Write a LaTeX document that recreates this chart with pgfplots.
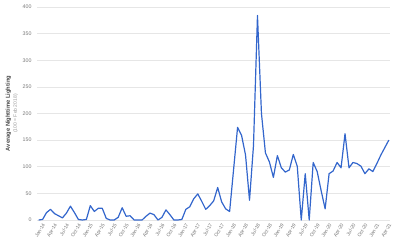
\documentclass[border=0pt]{standalone}
\usepackage{pgfplots}
\pgfplotsset{compat=1.18}
\usepackage{fontspec}
\setmainfont{Liberation Sans}
\definecolor{linec}{HTML}{3366CC}
\definecolor{gridc}{HTML}{E6E6E6}
\definecolor{tickc}{HTML}{777777}
\definecolor{labc}{HTML}{444444}
\definecolor{subc}{HTML}{9A9A9A}
\begin{document}
\begin{tikzpicture}
\begin{axis}[
  at={(37bp,25bp)}, anchor=south west,
  scale only axis, width=353bp, height=213bp,
  xmin=-0.4, xmax=88.3, ymin=0, ymax=400,
  clip=false,
  axis line style={draw=none},
  tick style={draw=none},
  ymajorgrids,
  grid style={draw=gridc, line width=0.7bp},
  ytick={0,50,...,400},
  xtick={0,3,...,87},
  xticklabels={Jan-14,Apr-14,Jul-14,Oct-14,Jan-15,Apr-15,Jul-15,Oct-15,Jan-16,Apr-16,Jul-16,Oct-16,Jan-17,Apr-17,Jul-17,Oct-17,Jan-18,Apr-18,Jul-18,Oct-18,Jan-19,Apr-19,Jul-19,Oct-19,Jan-20,Apr-20,Jul-20,Oct-20,Jan-21,Apr-21},
  /pgf/number format/assume math mode=true,
  x tick label style={rotate=60, anchor=north east, font=\fontsize{5}{6}\selectfont, text=tickc, inner sep=0.5bp, yshift=-4bp},
  y tick label style={font=\fontsize{5.3}{6}\selectfont, text=tickc, xshift=-2bp},
  ylabel={\textbf{Average Nighttime Lighting}\\{\color{subc}\fontsize{5}{6}\selectfont(100 = Feb 2018)}},
  ylabel style={at={(axis description cs:-0.044,0.5)}, rotate=0, anchor=south, align=center, font=\fontsize{5.8}{7}\selectfont, text=labc},
]
\addplot[color=linec, line width=1.2bp, line join=round] coordinates {
(0,0)(1,1)(2,14)(3,20)(4,12)(5,8)(6,4)(7,13)(8,26)(9,14)
(10,1)(11,0)(12,1)(13,27)(14,16)(15,22)(16,22)(17,3)(18,0)(19,0)
(20,5)(21,23)(22,7)(23,8)(24,0)(25,0)(26,0)(27,7)(28,13)(29,10)
(30,0)(31,5)(32,19)(33,10)(34,0)(35,0)(36,1)(37,20)(38,25)(39,40)
(40,49)(41,35)(42,20)(43,27)(44,36)(45,61)(46,34)(47,21)(48,16)(49,95)
(50,174)(51,159)(52,122)(53,37)(54,140)(55,384)(56,200)(57,126)(58,109)(59,80)
(60,121)(61,98)(62,90)(63,94)(64,123)(65,101)(66,0)(67,87)(68,0)(69,108)
(70,91)(71,55)(72,21)(73,87)(74,92)(75,108)(76,98)(77,162)(78,98)(79,108)
(80,106)(81,101)(82,87)(83,96)(84,91)(85,106)(86,122)(87,136)(88,150)
};
\end{axis}
\pgfresetboundingbox
\useasboundingbox (0,0) rectangle (400bp,245bp);
\end{tikzpicture}
\end{document}
